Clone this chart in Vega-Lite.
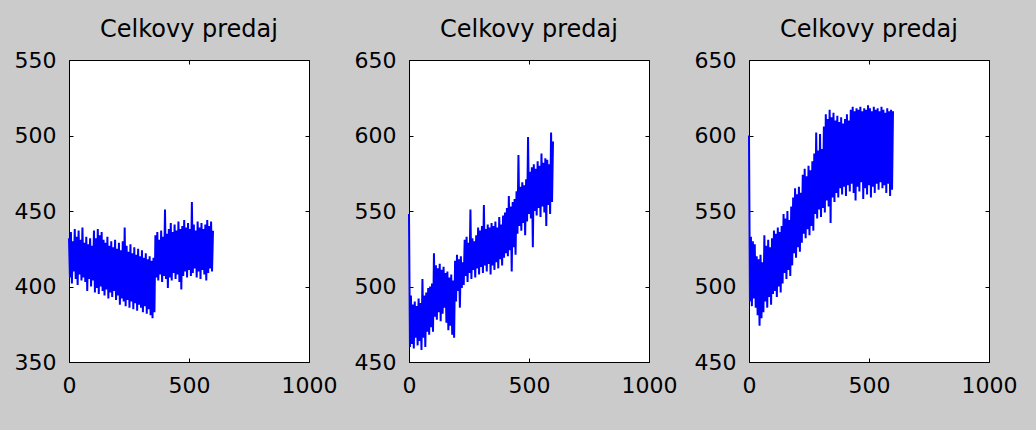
{
  "$schema": "https://vega.github.io/schema/vega-lite/v6.json",
  "background": "#cbcbcb",
  "padding": {"left": 13, "top": 17, "right": 20, "bottom": 36},
  "spacing": 100,
  "bounds": "flush",
  "config": {
    "view": {"stroke": "#000000", "strokeWidth": 1, "fill": "#ffffff"},
    "axis": {
      "grid": false,
      "domain": false,
      "labelFont": "DejaVu Sans",
      "labelFontSize": 22,
      "labelColor": "#000000",
      "tickColor": "#000000",
      "tickSize": -4,
      "labelPadding": 17,
      "labelFlush": false,
      "labelOverlap": false,
      "format": "d"
    },
    "title": {
      "font": "DejaVu Sans",
      "fontSize": 24,
      "fontWeight": "normal",
      "color": "#000000",
      "anchor": "middle",
      "baseline": "alphabetic",
      "offset": 7
    },
    "line": {"color": "#0000ff", "strokeWidth": 2}
  },
  "datasets": {
    "p1": [
      {"x":0,"y":432},{"x":4,"y":406},{"x":8,"y":436},{"x":12,"y":402},{"x":16,"y":430},{"x":20,"y":410},{"x":24,"y":438},{"x":28,"y":405},{"x":32,"y":433},{"x":36,"y":401},
      {"x":40,"y":437},{"x":44,"y":408},{"x":48,"y":431},{"x":52,"y":404},{"x":56,"y":439},{"x":60,"y":406},{"x":64,"y":429},{"x":68,"y":403},{"x":72,"y":433},{"x":76,"y":397},
      {"x":80,"y":428},{"x":84,"y":405},{"x":88,"y":432},{"x":92,"y":400},{"x":96,"y":427},{"x":100,"y":404},{"x":104,"y":437},{"x":108,"y":396},{"x":112,"y":432},{"x":116,"y":399},
      {"x":120,"y":438},{"x":124,"y":395},{"x":128,"y":434},{"x":132,"y":400},{"x":136,"y":436},{"x":140,"y":397},{"x":144,"y":431},{"x":148,"y":394},{"x":152,"y":429},{"x":156,"y":398},
      {"x":160,"y":433},{"x":164,"y":392},{"x":168,"y":427},{"x":172,"y":396},{"x":176,"y":430},{"x":180,"y":393},{"x":184,"y":426},{"x":188,"y":397},{"x":192,"y":431},{"x":196,"y":391},
      {"x":200,"y":425},{"x":204,"y":394},{"x":208,"y":429},{"x":212,"y":388},{"x":216,"y":424},{"x":220,"y":392},{"x":224,"y":430},{"x":228,"y":390},{"x":232,"y":439},{"x":236,"y":387},
      {"x":240,"y":427},{"x":244,"y":391},{"x":248,"y":423},{"x":252,"y":386},{"x":256,"y":428},{"x":260,"y":390},{"x":264,"y":422},{"x":268,"y":385},{"x":272,"y":426},{"x":276,"y":389},
      {"x":280,"y":421},{"x":284,"y":384},{"x":288,"y":425},{"x":292,"y":388},{"x":296,"y":420},{"x":300,"y":386},{"x":304,"y":424},{"x":308,"y":383},{"x":312,"y":419},{"x":316,"y":387},
      {"x":320,"y":422},{"x":324,"y":382},{"x":328,"y":418},{"x":332,"y":385},{"x":336,"y":420},{"x":340,"y":381},{"x":344,"y":417},{"x":348,"y":379},{"x":352,"y":419},{"x":356,"y":383},
      {"x":360,"y":434},{"x":364,"y":406},{"x":368,"y":436},{"x":372,"y":404},{"x":376,"y":431},{"x":380,"y":408},{"x":384,"y":437},{"x":388,"y":403},{"x":392,"y":433},{"x":396,"y":407},
      {"x":400,"y":451},{"x":404,"y":405},{"x":408,"y":435},{"x":412,"y":399},{"x":416,"y":438},{"x":420,"y":406},{"x":424,"y":442},{"x":428,"y":404},{"x":432,"y":436},{"x":436,"y":409},
      {"x":440,"y":441},{"x":444,"y":405},{"x":448,"y":437},{"x":452,"y":408},{"x":456,"y":443},{"x":460,"y":403},{"x":464,"y":438},{"x":468,"y":398},{"x":472,"y":440},{"x":476,"y":407},
      {"x":480,"y":444},{"x":484,"y":410},{"x":488,"y":439},{"x":492,"y":406},{"x":496,"y":442},{"x":500,"y":411},{"x":504,"y":438},{"x":508,"y":407},{"x":512,"y":456},{"x":516,"y":409},
      {"x":520,"y":441},{"x":524,"y":412},{"x":528,"y":437},{"x":532,"y":406},{"x":536,"y":443},{"x":540,"y":410},{"x":544,"y":439},{"x":548,"y":405},{"x":552,"y":442},{"x":556,"y":411},
      {"x":560,"y":438},{"x":564,"y":408},{"x":568,"y":441},{"x":572,"y":404},{"x":576,"y":444},{"x":580,"y":409},{"x":584,"y":440},{"x":588,"y":412},{"x":592,"y":443},{"x":596,"y":410},
      {"x":600,"y":437}
    ],
    "p2": [
      {"x":0,"y":548},{"x":4,"y":460},{"x":8,"y":494},{"x":12,"y":462},{"x":16,"y":488},{"x":20,"y":459},{"x":24,"y":490},{"x":28,"y":466},{"x":32,"y":487},{"x":36,"y":461},
      {"x":40,"y":492},{"x":44,"y":464},{"x":48,"y":489},{"x":52,"y":458},{"x":56,"y":505},{"x":60,"y":466},{"x":64,"y":494},{"x":68,"y":460},{"x":72,"y":496},{"x":76,"y":470},
      {"x":80,"y":499},{"x":84,"y":468},{"x":88,"y":500},{"x":92,"y":473},{"x":96,"y":502},{"x":100,"y":470},{"x":104,"y":522},{"x":108,"y":480},{"x":112,"y":514},{"x":116,"y":478},
      {"x":120,"y":512},{"x":124,"y":483},{"x":128,"y":515},{"x":132,"y":477},{"x":136,"y":511},{"x":140,"y":482},{"x":144,"y":513},{"x":148,"y":486},{"x":152,"y":509},{"x":156,"y":476},
      {"x":160,"y":510},{"x":164,"y":471},{"x":168,"y":506},{"x":172,"y":474},{"x":176,"y":508},{"x":180,"y":468},{"x":184,"y":504},{"x":188,"y":466},{"x":192,"y":517},{"x":196,"y":490},
      {"x":200,"y":521},{"x":204,"y":497},{"x":208,"y":518},{"x":212,"y":486},{"x":216,"y":520},{"x":220,"y":499},{"x":224,"y":516},{"x":228,"y":501},{"x":232,"y":531},{"x":236,"y":507},
      {"x":240,"y":533},{"x":244,"y":503},{"x":248,"y":529},{"x":252,"y":509},{"x":256,"y":551},{"x":260,"y":505},{"x":264,"y":532},{"x":268,"y":511},{"x":272,"y":530},{"x":276,"y":506},
      {"x":280,"y":534},{"x":284,"y":512},{"x":288,"y":539},{"x":292,"y":508},{"x":296,"y":537},{"x":300,"y":513},{"x":304,"y":540},{"x":308,"y":509},{"x":312,"y":554},{"x":316,"y":514},
      {"x":320,"y":538},{"x":324,"y":510},{"x":328,"y":541},{"x":332,"y":515},{"x":336,"y":539},{"x":340,"y":508},{"x":344,"y":542},{"x":348,"y":514},{"x":352,"y":540},{"x":356,"y":511},
      {"x":360,"y":543},{"x":364,"y":516},{"x":368,"y":539},{"x":372,"y":512},{"x":376,"y":546},{"x":380,"y":518},{"x":384,"y":541},{"x":388,"y":514},{"x":392,"y":547},{"x":396,"y":519},
      {"x":400,"y":549},{"x":404,"y":522},{"x":408,"y":552},{"x":412,"y":520},{"x":416,"y":560},{"x":420,"y":524},{"x":424,"y":553},{"x":428,"y":510},{"x":432,"y":556},{"x":436,"y":526},
      {"x":440,"y":558},{"x":444,"y":521},{"x":448,"y":563},{"x":452,"y":535},{"x":456,"y":587},{"x":460,"y":540},{"x":464,"y":566},{"x":468,"y":537},{"x":472,"y":569},{"x":476,"y":542},
      {"x":480,"y":567},{"x":484,"y":534},{"x":488,"y":571},{"x":492,"y":543},{"x":496,"y":599},{"x":500,"y":548},{"x":504,"y":576},{"x":508,"y":545},{"x":512,"y":579},{"x":516,"y":526},
      {"x":520,"y":581},{"x":524,"y":550},{"x":528,"y":578},{"x":532,"y":547},{"x":536,"y":583},{"x":540,"y":552},{"x":544,"y":580},{"x":548,"y":546},{"x":552,"y":588},{"x":556,"y":553},
      {"x":560,"y":582},{"x":564,"y":549},{"x":568,"y":585},{"x":572,"y":540},{"x":576,"y":584},{"x":580,"y":554},{"x":584,"y":581},{"x":588,"y":548},{"x":592,"y":602},{"x":596,"y":556},
      {"x":600,"y":596}
    ],
    "p3": [
      {"x":0,"y":600},{"x":4,"y":490},{"x":8,"y":533},{"x":12,"y":487},{"x":16,"y":530},{"x":20,"y":492},{"x":24,"y":528},{"x":28,"y":486},{"x":32,"y":520},{"x":36,"y":481},
      {"x":40,"y":518},{"x":44,"y":474},{"x":48,"y":521},{"x":52,"y":479},{"x":56,"y":516},{"x":60,"y":483},{"x":64,"y":534},{"x":68,"y":490},{"x":72,"y":527},{"x":76,"y":486},
      {"x":80,"y":531},{"x":84,"y":493},{"x":88,"y":526},{"x":92,"y":488},{"x":96,"y":532},{"x":100,"y":495},{"x":104,"y":537},{"x":108,"y":497},{"x":112,"y":535},{"x":116,"y":493},
      {"x":120,"y":539},{"x":124,"y":500},{"x":128,"y":536},{"x":132,"y":496},{"x":136,"y":540},{"x":140,"y":502},{"x":144,"y":548},{"x":148,"y":509},{"x":152,"y":545},{"x":156,"y":505},
      {"x":160,"y":550},{"x":164,"y":511},{"x":168,"y":544},{"x":172,"y":507},{"x":176,"y":553},{"x":180,"y":514},{"x":184,"y":559},{"x":188,"y":522},{"x":192,"y":565},{"x":196,"y":519},
      {"x":200,"y":561},{"x":204,"y":526},{"x":208,"y":566},{"x":212,"y":523},{"x":216,"y":562},{"x":220,"y":529},{"x":224,"y":574},{"x":228,"y":535},{"x":232,"y":578},{"x":236,"y":532},
      {"x":240,"y":573},{"x":244,"y":538},{"x":248,"y":580},{"x":252,"y":534},{"x":256,"y":577},{"x":260,"y":540},{"x":264,"y":583},{"x":268,"y":537},{"x":272,"y":588},{"x":276,"y":548},
      {"x":280,"y":602},{"x":284,"y":545},{"x":288,"y":590},{"x":292,"y":551},{"x":296,"y":601},{"x":300,"y":546},{"x":304,"y":591},{"x":308,"y":552},{"x":312,"y":606},{"x":316,"y":549},
      {"x":320,"y":614},{"x":324,"y":557},{"x":328,"y":611},{"x":332,"y":553},{"x":336,"y":617},{"x":340,"y":542},{"x":344,"y":612},{"x":348,"y":559},{"x":352,"y":615},{"x":356,"y":556},
      {"x":360,"y":610},{"x":364,"y":562},{"x":368,"y":613},{"x":372,"y":559},{"x":376,"y":609},{"x":380,"y":565},{"x":384,"y":612},{"x":388,"y":561},{"x":392,"y":608},{"x":396,"y":566},
      {"x":400,"y":611},{"x":404,"y":560},{"x":408,"y":614},{"x":412,"y":567},{"x":416,"y":610},{"x":420,"y":563},{"x":424,"y":617},{"x":428,"y":568},{"x":432,"y":619},{"x":436,"y":562},
      {"x":440,"y":616},{"x":444,"y":557},{"x":448,"y":618},{"x":452,"y":566},{"x":456,"y":617},{"x":460,"y":563},{"x":464,"y":619},{"x":468,"y":569},{"x":472,"y":616},{"x":476,"y":558},
      {"x":480,"y":618},{"x":484,"y":565},{"x":488,"y":617},{"x":492,"y":561},{"x":496,"y":620},{"x":500,"y":567},{"x":504,"y":618},{"x":508,"y":559},{"x":512,"y":616},{"x":516,"y":566},
      {"x":520,"y":619},{"x":524,"y":562},{"x":528,"y":617},{"x":532,"y":568},{"x":536,"y":618},{"x":540,"y":564},{"x":544,"y":616},{"x":548,"y":569},{"x":552,"y":619},{"x":556,"y":565},
      {"x":560,"y":617},{"x":564,"y":567},{"x":568,"y":615},{"x":572,"y":562},{"x":576,"y":618},{"x":580,"y":568},{"x":584,"y":616},{"x":588,"y":560},{"x":592,"y":617},{"x":596,"y":564},
      {"x":600,"y":616}
    ]
  },
  "hconcat": [
    {
      "width": 240,
      "height": 302,
      "title": {"text": "Celkovy predaj"},
      "data": {"name": "p1"},
      "layer": [
        {
          "mark": {"type": "line"},
          "encoding": {
            "x": {"field": "x", "type": "quantitative", "scale": {"domain": [0, 1000], "nice": false, "zero": false}, "axis": {"orient": "bottom", "values": [0, 500, 1000], "title": null}},
            "y": {"field": "y", "type": "quantitative", "scale": {"domain": [350, 550], "nice": false, "zero": false}, "axis": {"orient": "left", "values": [350, 400, 450, 500, 550], "title": null}}
          }
        },
        {
          "mark": {"type": "line", "strokeOpacity": 0},
          "encoding": {
            "x": {"field": "x", "type": "quantitative", "axis": {"orient": "top", "values": [0, 500, 1000], "labels": false, "title": null}},
            "y": {"field": "y", "type": "quantitative", "axis": {"orient": "right", "values": [350, 400, 450, 500, 550], "labels": false, "title": null}}
          }
        }
      ],
      "resolve": {"axis": {"x": "independent", "y": "independent"}}
    },
    {
      "width": 240,
      "height": 302,
      "title": {"text": "Celkovy predaj"},
      "data": {"name": "p2"},
      "layer": [
        {
          "mark": {"type": "line"},
          "encoding": {
            "x": {"field": "x", "type": "quantitative", "scale": {"domain": [0, 1000], "nice": false, "zero": false}, "axis": {"orient": "bottom", "values": [0, 500, 1000], "title": null}},
            "y": {"field": "y", "type": "quantitative", "scale": {"domain": [450, 650], "nice": false, "zero": false}, "axis": {"orient": "left", "values": [450, 500, 550, 600, 650], "title": null}}
          }
        },
        {
          "mark": {"type": "line", "strokeOpacity": 0},
          "encoding": {
            "x": {"field": "x", "type": "quantitative", "axis": {"orient": "top", "values": [0, 500, 1000], "labels": false, "title": null}},
            "y": {"field": "y", "type": "quantitative", "axis": {"orient": "right", "values": [450, 500, 550, 600, 650], "labels": false, "title": null}}
          }
        }
      ],
      "resolve": {"axis": {"x": "independent", "y": "independent"}}
    },
    {
      "width": 240,
      "height": 302,
      "title": {"text": "Celkovy predaj"},
      "data": {"name": "p3"},
      "layer": [
        {
          "mark": {"type": "line"},
          "encoding": {
            "x": {"field": "x", "type": "quantitative", "scale": {"domain": [0, 1000], "nice": false, "zero": false}, "axis": {"orient": "bottom", "values": [0, 500, 1000], "title": null}},
            "y": {"field": "y", "type": "quantitative", "scale": {"domain": [450, 650], "nice": false, "zero": false}, "axis": {"orient": "left", "values": [450, 500, 550, 600, 650], "title": null}}
          }
        },
        {
          "mark": {"type": "line", "strokeOpacity": 0},
          "encoding": {
            "x": {"field": "x", "type": "quantitative", "axis": {"orient": "top", "values": [0, 500, 1000], "labels": false, "title": null}},
            "y": {"field": "y", "type": "quantitative", "axis": {"orient": "right", "values": [450, 500, 550, 600, 650], "labels": false, "title": null}}
          }
        }
      ],
      "resolve": {"axis": {"x": "independent", "y": "independent"}}
    }
  ]
}
